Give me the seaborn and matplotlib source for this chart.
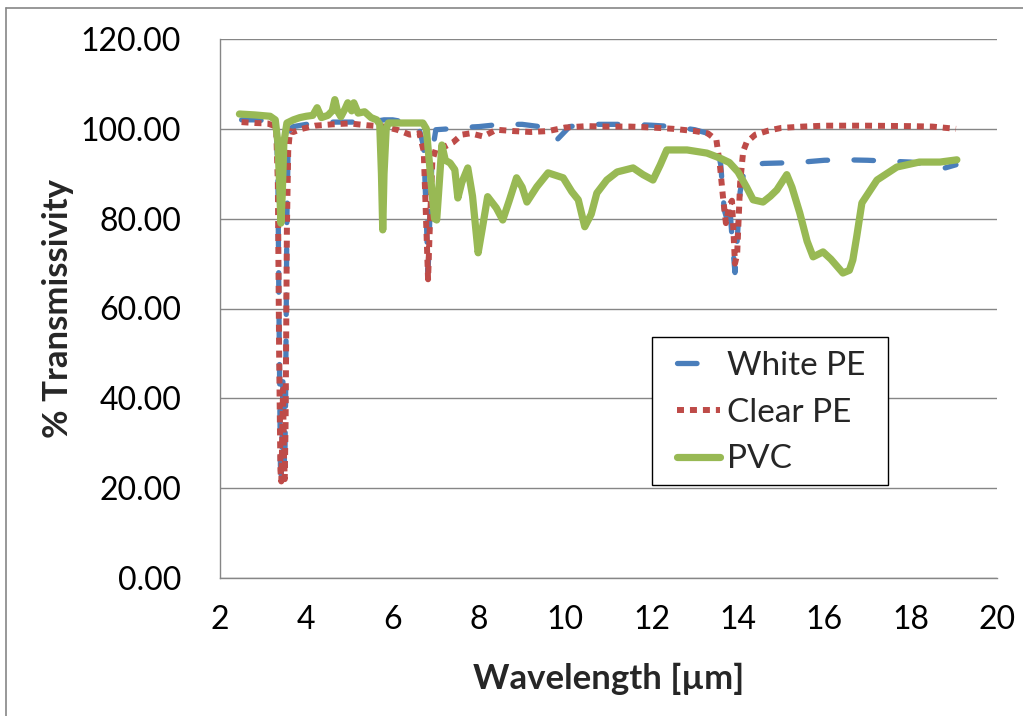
import numpy as np
import pandas as pd
import matplotlib
matplotlib.use("Agg")
import matplotlib.pyplot as plt
from matplotlib.ticker import MultipleLocator, FormatStrFormatter
from matplotlib.lines import Line2D
from matplotlib.patches import Rectangle
import seaborn as sns

# ---- spectra: wavelength (µm) and % transmissivity ----
series_names = ["White PE", "Clear PE", "PVC"]

white_pe_wavelength = [2.5, 2.8, 3.1, 3.3, 3.34, 3.37, 3.40, 3.42, 3.44, 3.46, 3.48, 3.50,
                       3.52, 3.55, 3.58, 3.62, 3.7, 4.0, 4.5, 5.0, 5.5, 5.8, 6.0, 6.3, 6.6,
                       6.72, 6.78, 6.82, 6.86, 6.92, 7.0, 7.3, 7.6, 8.0, 8.5, 9.0, 9.4, 9.6,
                       9.8, 9.9, 10.1, 10.5, 11.0, 11.5, 12.0, 12.5, 13.0, 13.3, 13.5, 13.6,
                       13.68, 13.74, 13.8, 13.86, 13.93, 13.98, 14.05, 14.15, 14.3, 14.6,
                       15.0, 15.5, 16.0, 16.5, 17.0, 17.5, 18.0, 18.5, 18.8, 19.05]
white_pe_transmissivity = [102.0, 102.0, 101.8, 101.0, 90.0, 55.0, 25.0, 23.0, 32.0, 45.0, 30.0,
                           24.0, 40.0, 80.0, 96.0, 100.0, 100.5, 101.0, 101.5, 101.5, 101.5,
                           102.0, 102.0, 101.5, 100.5, 96.0, 80.0, 68.0, 80.0, 95.0, 99.8,
                           100.0, 100.3, 100.5, 101.0, 101.0, 100.5, 98.2, 97.5, 98.5, 100.5,
                           101.0, 101.0, 101.0, 100.8, 100.5, 99.8, 99.0, 97.0, 92.0, 82.0,
                           80.0, 84.0, 76.0, 68.0, 75.0, 86.0, 91.0, 92.0, 92.3, 92.4, 92.6,
                           93.0, 93.1, 93.0, 92.8, 92.6, 92.0, 91.3, 92.0]

clear_pe_wavelength = [2.5, 2.8, 3.1, 3.3, 3.34, 3.37, 3.40, 3.42, 3.44, 3.46, 3.48, 3.50,
                       3.52, 3.55, 3.58, 3.62, 3.7, 3.9, 4.2, 4.6, 5.0, 5.4, 5.8, 6.1, 6.4,
                       6.62, 6.72, 6.78, 6.82, 6.86, 6.92, 7.0, 7.2, 7.4, 7.6, 7.8, 8.1, 8.4,
                       8.8, 9.2, 9.6, 10.0, 10.5, 11.0, 11.5, 12.0, 12.5, 13.0, 13.3, 13.5,
                       13.58, 13.65, 13.72, 13.8, 13.86, 13.93, 13.98, 14.05, 14.12, 14.2,
                       14.4, 14.7, 15.0, 15.5, 16.0, 17.0, 18.0, 18.5, 19.05]
clear_pe_transmissivity = [101.5, 101.3, 101.2, 100.5, 88.0, 50.0, 24.0, 21.5, 30.0, 42.0, 28.0,
                           22.0, 35.0, 78.0, 95.0, 99.5, 99.3, 100.0, 100.7, 101.0, 101.2,
                           100.8, 100.5, 99.8, 98.7, 99.0, 95.0, 78.0, 66.5, 78.0, 93.0, 95.5,
                           96.0, 97.0, 98.7, 99.0, 98.3, 99.8, 99.5, 99.3, 99.5, 100.3, 100.6,
                           100.5, 100.5, 100.3, 100.0, 99.5, 99.0, 97.5, 92.0, 85.0, 79.0,
                           83.0, 84.0, 70.0, 72.0, 88.0, 95.0, 97.0, 98.7, 99.6, 100.2, 100.5,
                           100.7, 100.7, 100.6, 100.5, 100.0]

pvc_wavelength = [2.45, 2.8, 3.16, 3.28, 3.34, 3.38, 3.41, 3.44, 3.48, 3.55, 3.7, 3.85, 4.0,
                  4.15, 4.25, 4.35, 4.5, 4.6, 4.66, 4.72, 4.8, 4.9, 4.96, 5.05, 5.1, 5.2,
                  5.35, 5.5, 5.63, 5.7, 5.74, 5.77, 5.8, 5.85, 5.9, 6.1, 6.4, 6.7, 6.78,
                  6.86, 6.92, 6.97, 7.02, 7.08, 7.14, 7.22, 7.33, 7.44, 7.51, 7.6, 7.74,
                  7.85, 7.98, 8.08, 8.2, 8.4, 8.55, 8.7, 8.87, 9.0, 9.11, 9.34, 9.6, 9.95,
                  10.15, 10.3, 10.45, 10.6, 10.73, 10.96, 11.2, 11.57, 11.8, 12.03, 12.2,
                  12.35, 12.82, 13.28, 13.58, 13.8, 14.0, 14.2, 14.35, 14.58, 14.75, 14.9,
                  15.13, 15.25, 15.43, 15.6, 15.74, 15.97, 16.15, 16.43, 16.58, 16.66,
                  16.75, 16.87, 17.22, 17.68, 18.2, 18.68, 19.07]
pvc_transmissivity = [103.3, 103.1, 102.8, 102.0, 97.0, 88.0, 79.0, 85.0, 97.0, 101.3, 102.0,
                      102.5, 102.8, 103.0, 104.7, 102.5, 103.0, 104.0, 106.5, 104.0, 102.7,
                      104.5, 105.8, 104.0, 105.8, 103.5, 103.8, 102.5, 102.0, 101.0, 90.0,
                      77.5, 90.0, 100.0, 101.3, 101.3, 101.3, 101.3, 100.0, 91.5, 85.0, 80.0,
                      79.7, 88.0, 96.4, 93.0, 92.4, 90.9, 84.6, 88.0, 91.3, 85.0, 72.4, 78.0,
                      84.9, 82.4, 79.7, 84.0, 89.1, 87.0, 83.7, 87.1, 90.2, 89.1, 86.0, 84.2,
                      78.2, 81.0, 85.7, 88.6, 90.4, 91.3, 89.8, 88.6, 92.0, 95.3, 95.3, 94.6,
                      93.5, 92.5, 90.4, 87.0, 84.2, 83.7, 85.0, 86.4, 89.8, 87.0, 81.3, 75.0,
                      71.5, 72.6, 71.0, 67.9, 68.5, 70.8, 76.0, 83.5, 88.6, 91.5, 92.6, 92.6,
                      93.1]

x_ticks = [2, 4, 6, 8, 10, 12, 14, 16, 18, 20]
y_ticks = [0, 20, 40, 60, 80, 100, 120]

spectra = pd.concat([
    pd.DataFrame({"wavelength": white_pe_wavelength,
                  "transmissivity": white_pe_transmissivity, "sample": series_names[0]}),
    pd.DataFrame({"wavelength": clear_pe_wavelength,
                  "transmissivity": clear_pe_transmissivity, "sample": series_names[1]}),
    pd.DataFrame({"wavelength": pvc_wavelength,
                  "transmissivity": pvc_transmissivity, "sample": series_names[2]}),
], ignore_index=True)

# ---- styling ----
sns.set_style("white")
plt.rcParams["font.family"] = ["Lato", "DejaVu Sans"]

axis_grey = "#868686"
line_styles = {
    "White PE": dict(color="#4a7ebb", lw=3.8, ls=(0, (3.7, 5.0)), cap="round"),
    "Clear PE": dict(color="#be4b48", lw=4.3, ls=(0, (1.17, 1.0)), cap="butt"),
    "PVC": dict(color="#98b954", lw=5.2, ls="-", cap="round"),
}

W, H = 1023, 716
fig = plt.figure(figsize=(W / 100, H / 100), dpi=100)
ax = fig.add_axes([220 / W, 1 - 578 / H, 777 / W, 539 / H])

for name in series_names:
    st = line_styles[name]
    sns.lineplot(data=spectra[spectra["sample"] == name], x="wavelength", y="transmissivity",
                 ax=ax, color=st["color"], linewidth=st["lw"], sort=False,
                 estimator=None, label=name, legend=False)
    line = ax.lines[-1]
    line.set_linestyle(st["ls"])
    line.set_dash_capstyle(st["cap"])
    line.set_solid_capstyle(st["cap"])
    line.set_solid_joinstyle("round")
    line.set_dash_joinstyle("round")

ax.set_xlim(2, 20)
ax.set_ylim(0, 120)
ax.set_xticks(x_ticks)
ax.set_yticks(y_ticks)
ax.xaxis.set_minor_locator(MultipleLocator(0.4))
ax.yaxis.set_minor_locator(MultipleLocator(4))
ax.yaxis.set_major_formatter(FormatStrFormatter("%.2f"))

ax.grid(axis="y", which="major", color=axis_grey, linewidth=1.0)
ax.grid(axis="x", visible=False)
ax.set_axisbelow(True)
for side in ("top", "right"):
    ax.spines[side].set_visible(False)
for side in ("left", "bottom"):
    ax.spines[side].set_color(axis_grey)
    ax.spines[side].set_linewidth(1.0)

ax.tick_params(which="major", direction="inout", length=18, width=1.0, color=axis_grey,
               labelsize=23, labelcolor="black")
ax.tick_params(which="minor", direction="inout", length=13, width=1.0, color=axis_grey)
ax.tick_params(axis="x", which="major", pad=10.5)
ax.tick_params(axis="y", which="major", pad=19)

ax.set_xlabel("Wavelength [µm]", fontsize=25, fontweight="bold", labelpad=20)
ax.set_ylabel("% Transmissivity", fontsize=25, fontweight="bold", labelpad=5)

# legend box, then the entries laid inside it
def px_to_axes(px, py):
    return (px - 220) / 777, (578 - py) / 539

bx0, by0 = px_to_axes(652, 485)
bx1, by1 = px_to_axes(888, 337)
ax.add_patch(Rectangle((bx0, by0), bx1 - bx0, by1 - by0, transform=ax.transAxes,
                       facecolor="white", edgecolor="black", linewidth=1.0, zorder=4.5))
lx, ly = px_to_axes(677, 351)
leg = ax.legend(loc="upper left", bbox_to_anchor=(lx, ly), borderaxespad=0, borderpad=0,
                fontsize=24, frameon=False, handlelength=1.3, handletextpad=0.2,
                labelspacing=0.5)
leg.set_zorder(5)

# outer chart-area border (top and left edges)
fig.add_artist(Line2D([6 / W, 6 / W], [0, 1 - 8 / H], transform=fig.transFigure,
                      color=axis_grey, linewidth=1.2))
fig.add_artist(Line2D([6 / W, 1], [1 - 8 / H, 1 - 8 / H], transform=fig.transFigure,
                      color=axis_grey, linewidth=1.2))

fig.savefig("out.png", dpi=100, facecolor="white")
